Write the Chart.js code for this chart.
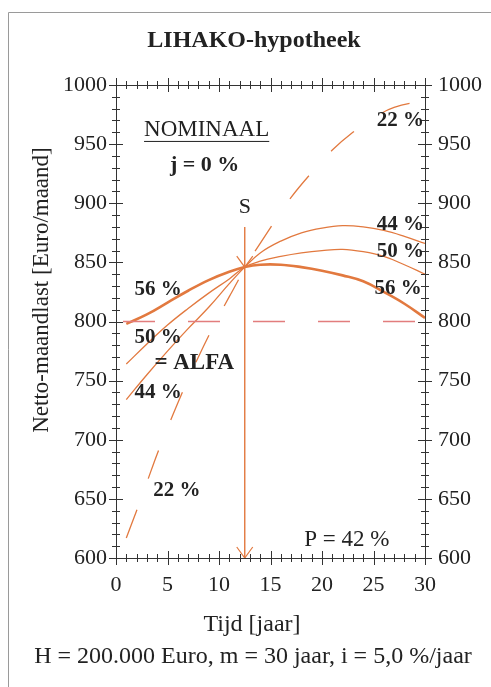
<!DOCTYPE html>
<html><head><meta charset="utf-8">
<script src="https://cdn.jsdelivr.net/npm/chart.js@4.4.1/dist/chart.umd.min.js"></script>
<style>html,body{margin:0;padding:0;background:#fff;}#wrap{width:491px;height:687px;position:relative;}</style>
</head><body><div id="wrap"><canvas id="c" width="491" height="687"></canvas></div>
<script>
// ---- data ----
const yearsCurve = [1, 3, 5, 7, 9, 11, 12.5, 14, 16, 18, 20, 22, 24, 26, 28, 30];
const alfa56 = [798, 806, 816, 826, 835, 842, 846, 848, 848, 846, 843, 839, 834, 825, 815, 803];
const alfa50 = [764, 781, 797, 811, 824, 836, 846, 851, 855, 858, 860, 861, 859, 855, 848, 840];
const alfa44 = [734, 755, 775, 794, 812, 832, 846, 858, 868, 875, 879, 881, 880, 877, 872, 866];
const years22 = [1, 2, 3, 4, 5, 6, 7, 8, 9, 10, 11, 12, 12.5, 14, 15.5, 17, 19, 21, 23, 25, 27, 30];
const alfa22 = [617, 640, 664, 688, 710, 731, 751, 770, 788, 805, 821, 837, 846, 866, 886, 905, 926, 945, 960, 972, 981, 987];
const sYear = 12.5, sValue = 846, markerTop = 880;
const refYears = [0, 30], refLevel = 800;
const xMin = 0, xMax = 30, xStep = 5, xMinor = 1;
const yMin = 600, yMax = 1000, yStep = 50, yMinor = 10;
const titleText = 'LIHAKO-hypotheek';
const yTitle = 'Netto-maandlast [Euro/maand]';
const xTitle = 'Tijd [jaar]';
const footText = 'H = 200.000 Euro, m = 30 jaar, i = 5,0 %/jaar';
const notes = [
  {t: 'NOMINAAL', x: 8.8, y: 962, b: false, s: 23, u: true},
  {t: 'j = 0 %', x: 8.6, y: 932, b: true, s: 22},
  {t: 'S', x: 12.5, y: 897, b: false, s: 22},
  {t: '22 %', x: 27.6, y: 970, b: true, s: 21},
  {t: '44 %', x: 27.6, y: 882, b: true, s: 21},
  {t: '50 %', x: 27.6, y: 859, b: true, s: 21},
  {t: '56 %', x: 27.4, y: 828, b: true, s: 21},
  {t: '56 %', x: 4.1, y: 827, b: true, s: 21},
  {t: '50 %', x: 4.1, y: 786, b: true, s: 21},
  {t: '= ALFA', x: 7.6, y: 765, b: true, s: 23},
  {t: '44 %', x: 4.1, y: 740, b: true, s: 21},
  {t: '22 %', x: 5.9, y: 657, b: true, s: 21},
  {t: 'P = 42 %', x: 22.4, y: 615, b: false, s: 23}
];
// ---------------------------------------
const FF = '"Liberation Serif", "DejaVu Serif", serif';
const orange = '#e2793f';
const pts = (xs, ys) => xs.map((x, i) => ({x, y: ys[i]}));

const decor = {
  id: 'decor',
  beforeDraw(chart) {
    const ctx = chart.ctx;
    ctx.save();
    ctx.strokeStyle = '#9a9a9a'; ctx.lineWidth = 1;
    ctx.beginPath(); ctx.moveTo(8.5, 687); ctx.lineTo(8.5, 12.5); ctx.lineTo(491, 12.5); ctx.stroke();
    ctx.restore();
  },
  afterDatasetsDraw(chart) {
    const ctx = chart.ctx, xs = chart.scales.x, ys = chart.scales.y, a = chart.chartArea;
    ctx.save();
    // arrowheads
    ctx.strokeStyle = orange; ctx.lineWidth = 1.2;
    [sValue, yMin].forEach(v => {
      const px = xs.getPixelForValue(sYear), py = ys.getPixelForValue(v);
      ctx.beginPath(); ctx.moveTo(px - 8, py - 11); ctx.lineTo(px, py); ctx.lineTo(px + 8, py - 11); ctx.stroke();
    });
    // frame
    ctx.strokeStyle = '#333'; ctx.lineWidth = 1;
    ctx.strokeRect(Math.round(a.left) + 0.5, Math.round(a.top) + 0.5, Math.round(a.right - a.left), Math.round(a.bottom - a.top));
    // ticks
    ctx.beginPath();
    for (let v = yMin; v <= yMax; v += yMinor) {
      const py = Math.round(ys.getPixelForValue(v)) + 0.5;
      const L = (v % yStep === 0) ? 7 : 4;
      ctx.moveTo(a.left - L, py); ctx.lineTo(a.left + L, py);
      ctx.moveTo(a.right - L, py); ctx.lineTo(a.right + L, py);
    }
    for (let v = xMin; v <= xMax; v += xMinor) {
      const px = Math.round(xs.getPixelForValue(v)) + 0.5;
      const L = (v % xStep === 0) ? 7 : 4;
      ctx.moveTo(px, a.top - L); ctx.lineTo(px, a.top + L);
      ctx.moveTo(px, a.bottom - L); ctx.lineTo(px, a.bottom + L);
    }
    ctx.stroke();
    // notes
    ctx.fillStyle = '#222'; ctx.textAlign = 'center'; ctx.textBaseline = 'middle';
    notes.forEach(n => {
      ctx.font = (n.b ? 'bold ' : '') + n.s + 'px ' + FF;
      const px = xs.getPixelForValue(n.x), py = ys.getPixelForValue(n.y);
      ctx.fillText(n.t, px, py);
      if (n.u) {
        const w = ctx.measureText(n.t).width;
        ctx.fillRect(px - w / 2, py + 11, w, 1);
      }
    });
    // titles
    ctx.font = 'bold 24px ' + FF;
    ctx.fillText(titleText, 254, a.top - 44);
    ctx.font = '24px ' + FF;
    ctx.fillText(xTitle, 252, a.bottom + 67);
    ctx.fillText(footText, 253, a.bottom + 99);
    ctx.font = '23px ' + FF;
    ctx.translate(42, a.top + 205); ctx.rotate(-Math.PI / 2);
    ctx.fillText(yTitle, 0, 0);
    ctx.restore();
  }
};

const tickFont = {family: FF, size: 22};
const plain = v => String(v);

new Chart(document.getElementById('c'), {
  type: 'line',
  data: {
    datasets: [
      {data: pts(refYears, [refLevel, refLevel]), borderColor: '#e27d7d', borderWidth: 1.5, borderDash: [32, 33], borderDashOffset: 58, pointRadius: 0},
      {data: pts(years22, alfa22), borderColor: orange, borderWidth: 1.3, borderDash: [30, 33], pointRadius: 0, tension: 0.4},
      {data: pts(yearsCurve, alfa44), borderColor: orange, borderWidth: 1.3, pointRadius: 0, tension: 0.4},
      {data: pts(yearsCurve, alfa50), borderColor: orange, borderWidth: 1.3, pointRadius: 0, tension: 0.4},
      {data: pts(yearsCurve, alfa56), borderColor: orange, borderWidth: 2.6, pointRadius: 0, tension: 0.4},
      {data: pts([sYear, sYear], [markerTop, yMin]), borderColor: orange, borderWidth: 1.4, pointRadius: 0}
    ]
  },
  options: {
    responsive: false, animation: false, events: [],
    layout: {padding: {top: 85, left: 0, right: 0, bottom: 0}},
    plugins: {legend: {display: false}, tooltip: {enabled: false}, title: {display: false}},
    scales: {
      x: {type: 'linear', min: xMin, max: xMax, position: 'bottom',
          grid: {display: false, drawTicks: false}, border: {display: false},
          ticks: {stepSize: xStep, color: '#222', font: tickFont, padding: 14, callback: plain},
          afterFit(s) { s.height = 129; }},
      y: {type: 'linear', min: yMin, max: yMax, position: 'left',
          grid: {display: false, drawTicks: false}, border: {display: false},
          ticks: {stepSize: yStep, color: '#222', font: tickFont, padding: 9, callback: plain},
          afterFit(s) { s.width = 116; }},
      y2: {type: 'linear', min: yMin, max: yMax, position: 'right',
          grid: {display: false, drawTicks: false}, border: {display: false},
          ticks: {stepSize: yStep, color: '#222', font: tickFont, padding: 13, callback: plain},
          afterFit(s) { s.width = 66; }}
    }
  },
  plugins: [decor]
});
</script></body></html>
